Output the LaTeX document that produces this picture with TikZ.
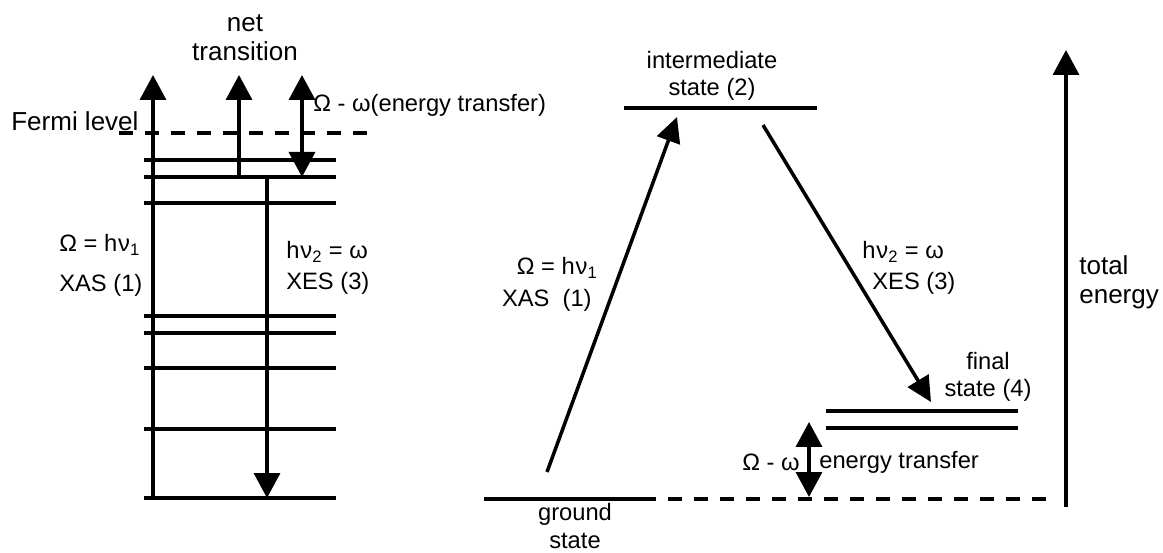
\documentclass[tikz,border=0pt]{standalone}
\usepackage{fontspec}
\setmainfont{Liberation Sans}
\usetikzlibrary{arrows.meta}
\newcommand{\hnu}[1]{h\kern0.5pt ν\textsubscript{#1}}

\begin{document}
\begin{tikzpicture}[x=0.02cm, y=-0.02cm, font=\fontsize{13.5}{15.5}\selectfont,
    level/.style={line width=2.2pt},
    fermi/.style={line width=2pt, dash pattern=on 0.28cm off 0.24cm},
    trans/.style={line width=2pt, -{Triangle[length=0.5cm, width=0.52cm]}},
    both/.style={line width=2pt, {Triangle[length=0.5cm, width=0.52cm]}-{Triangle[length=0.5cm, width=0.52cm]}},
    lbl/.style={inner sep=0pt, align=center},
    big/.style={font=\fontsize{14.8}{16.4}\selectfont}]
    \useasboundingbox (0,0) rectangle (1163,553);
    % left panel: band picture
    \foreach \y in {160,177,203,316,333,368,429,498} { \draw[level] (144,\y) -- (336,\y); }
    \coordinate (fl) at (119,133);
    \coordinate (fr) at (370,133);
    \draw[fermi] (fl) -- (fr);
    \coordinate (core) at (153,498);
    \coordinate (top1) at (153,75);
    \coordinate (vb) at (239,177);
    \coordinate (top2) at (239,75);
    \coordinate (top3) at (302,75);
    \coordinate (low3) at (302,177);
    \coordinate (em) at (267,177);
    \coordinate (emend) at (267,498);
    \draw[trans] (core) -- (top1);
    \draw[trans] (vb) -- (top2);
    \draw[both] (top3) -- (low3);
    \draw[trans] (em) -- (emend);
    \node[lbl, big] (net) at (245,38) {net\\transition};
    \node[lbl, big, anchor=west] (fermilbl) at (11,121) {Fermi level};
    \node[lbl, anchor=west] (etrans) at (313,105) {Ω - ω(energy transfer)};
    \node[lbl, anchor=west] (absl) at (59,245) {Ω = \hnu{1}};
    \node[lbl, anchor=west] (xasl) at (59,285) {XAS (1)};
    \node[lbl, anchor=west] (emil) at (286,252) {\hnu{2} = ω};
    \node[lbl, anchor=west] (xesl) at (286,283) {XES (3)};
    % right panel: total energy picture
    \coordinate (gs) at (484,499);
    \coordinate (gse) at (645,499);
    \coordinate (gsd) at (642,499);
    \coordinate (gsde) at (1054,499);
    \draw[level] (gs) -- (gse);
    \draw[fermi] (gsd) -- (gsde);
    \coordinate (is) at (624,108);
    \coordinate (ise) at (817,108);
    \draw[level] (is) -- (ise);
    \draw[level] (826,411) -- (1018,411);
    \draw[level] (826,428) -- (1018,428);
    \coordinate (absst) at (547,472);
    \coordinate (absen) at (677,117);
    \coordinate (emist) at (763,125);
    \coordinate (emien) at (931,402);
    \draw[trans, -{Triangle[length=0.5cm, width=0.48cm]}] (absst) -- (absen);
    \draw[trans, -{Triangle[length=0.5cm, width=0.48cm]}] (emist) -- (emien);
    \coordinate (dtop) at (809,422);
    \coordinate (dbot) at (809,497);
    \draw[both] (dtop) -- (dbot);
    \coordinate (te0) at (1066,507);
    \coordinate (te1) at (1066,50);
    \draw[trans] (te0) -- (te1);
    \node[lbl] (inter) at (712,76) {intermediate\\state (2)};
    \node[lbl] (final) at (988,377) {final\\state (4)};
    \node[lbl] (ground) at (575,526) {ground\\state};
    \node[lbl, anchor=east] (diff) at (800,462) {Ω - ω};
    \node[lbl, anchor=west] (difft) at (819,462) {energy transfer};
    \node[lbl, anchor=east] (absr) at (598,268) {Ω = \hnu{1}};
    \node[lbl, anchor=east] (xasr) at (592,300) {XAS\ \ (1)};
    \node[lbl, anchor=west] (emir) at (862,252) {\hnu{2} = ω};
    \node[lbl, anchor=west] (xesr) at (872,283) {XES (3)};
    \node[lbl, big, anchor=west, align=left] (tot) at (1079,282) {total\\energy};
\end{tikzpicture}
\end{document}
